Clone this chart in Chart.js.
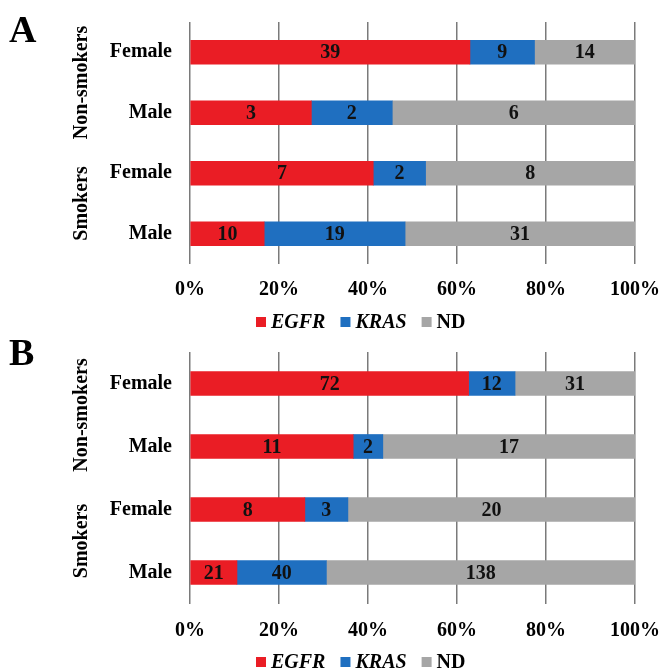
<!DOCTYPE html>
<html>
<head>
<meta charset="utf-8">
<script src="https://cdn.jsdelivr.net/npm/chart.js@4"></script>
<style>
  body { margin: 0; background: #fff; }
  .panel { position: absolute; left: 0; }
</style>
</head>
<body>
<canvas id="chartA" class="panel" width="665" height="336" style="top:0"></canvas>
<canvas id="chartB" class="panel" width="665" height="336" style="top:336px"></canvas>
<script>
const categories = ["Female", "Male", "Female", "Male"];
const groups = ["Non-smokers", "Smokers"];
const seriesNames = ["EGFR", "KRAS", "ND"];
const xTicks = [0, 20, 40, 60, 80, 100];

// panel A counts
const egfrA = [39, 3, 7, 10];
const krasA = [9, 2, 2, 19];
const ndA = [14, 6, 8, 31];

// panel B counts
const egfrB = [72, 11, 8, 21];
const krasB = [12, 2, 3, 40];
const ndB = [31, 17, 20, 138];

const colors = ["#ea1d25", "#1f6fc0", "#a6a6a6"];
const FONT = '"Liberation Serif", "Times New Roman", serif';

const toPercent = (series) => {
  const totals = series[0].map((_, i) => series.reduce((s, arr) => s + arr[i], 0));
  return series.map((arr) => arr.map((v, i) => (v / totals[i]) * 100));
};

const panelPlugin = {
  id: "panelPlugin",
  afterDatasetsDraw(chart, args, opts) {
    const ctx = chart.ctx;
    ctx.save();
    // counts inside bars
    ctx.font = "bold 20px " + FONT;
    ctx.fillStyle = "#111";
    ctx.textAlign = "center";
    ctx.textBaseline = "middle";
    chart.data.datasets.forEach((ds, di) => {
      chart.getDatasetMeta(di).data.forEach((bar, i) => {
        const p = bar.getCenterPoint();
        ctx.fillText(ds.counts[i], p.x, p.y + 1);
      });
    });
    ctx.restore();
  },
  afterDraw(chart, args, opts) {
    const ctx = chart.ctx;
    const yScale = chart.scales.y;
    ctx.save();
    // panel letter
    ctx.font = "bold 38px " + FONT;
    ctx.fillStyle = "#000";
    ctx.textAlign = "left";
    ctx.textBaseline = "alphabetic";
    ctx.fillText(opts.letter, 9, opts.letterY);

    // group labels
    ctx.font = "bold 20px " + FONT;
    ctx.textAlign = "center";
    ctx.textBaseline = "middle";
    groups.forEach((g, gi) => {
      const y = (yScale.getPixelForValue(gi * 2) + yScale.getPixelForValue(gi * 2 + 1)) / 2;
      ctx.save();
      ctx.translate(82, y);
      ctx.rotate(-Math.PI / 2);
      ctx.fillText(g, 0, 0);
      ctx.restore();
    });

    // legend
    let x = 256;
    const ly = opts.legendY;
    ctx.textAlign = "left";
    chart.data.datasets.forEach((ds) => {
      ctx.fillStyle = ds.backgroundColor;
      ctx.fillRect(x, ly - 5, 10, 10);
      x += 15;
      ctx.font = (ds.italic ? "italic " : "") + "bold 20px " + FONT;
      ctx.fillStyle = "#000";
      ctx.fillText(ds.label, x, ly + 1);
      x += ctx.measureText(ds.label).width + 15;
    });
    ctx.restore();
  },
};

const makeChart = (id, counts, opts) => {
  const pct = toPercent(counts);
  return new Chart(document.getElementById(id), {
    type: "bar",
    data: {
      labels: categories,
      datasets: seriesNames.map((name, i) => ({
        label: name,
        data: pct[i],
        counts: counts[i],
        italic: name !== "ND",
        backgroundColor: colors[i],
        barThickness: 24,
      })),
    },
    options: {
      indexAxis: "y",
      responsive: false,
      animation: false,
      layout: { padding: { left: 0, right: 30, top: opts.top, bottom: opts.bottom } },
      plugins: {
        legend: { display: false },
        tooltip: { enabled: false },
        panelPlugin: opts,
      },
      scales: {
        x: {
          stacked: true,
          min: 0,
          max: 100,
          afterBuildTicks: (s) => { s.ticks = xTicks.map((v) => ({ value: v })); },
          afterFit: (s) => { s.height = 40; s.paddingLeft = 0; s.paddingRight = 0; },
          grid: { color: "#7a7a7a", lineWidth: 1.5, drawTicks: false },
          border: { display: false },
          ticks: {
            padding: opts.tickPad,
            color: "#000",
            font: { family: FONT, size: 20, weight: "bold" },
            callback: (v) => v + "%",
          },
        },
        y: {
          stacked: true,
          afterFit: (s) => { s.width = 190; s.paddingTop = 0; s.paddingBottom = 0; },
          grid: { display: false, drawTicks: false },
          border: { display: false },
          ticks: {
            padding: 18,
            color: "#000",
            font: { family: FONT, size: 20, weight: "bold" },
          },
        },
      },
    },
    plugins: [panelPlugin],
  });
};

makeChart("chartA", [egfrA, krasA, ndA], { letter: "A", letterY: 42, legendY: 322, top: 22, bottom: 32, tickPad: 14 });
makeChart("chartB", [egfrB, krasB, ndB], { letter: "B", letterY: 29, legendY: 326, top: 16, bottom: 28, tickPad: 15 });
</script>
</body>
</html>
